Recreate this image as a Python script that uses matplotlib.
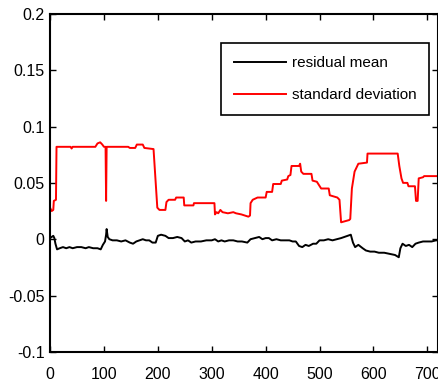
import numpy as np
import matplotlib
matplotlib.use("Agg")
import matplotlib.pyplot as plt

# standard deviation (red)
std_x = [0, 3, 6, 7, 11, 12, 38, 40, 42, 84, 88, 93, 97, 100, 103, 104, 105,
         145, 148, 158, 161, 172, 175, 192, 199, 203, 214, 216, 220, 232, 234,
         248, 249, 266, 267, 305, 306, 309, 312, 316, 320, 330, 340, 345, 355,
         368, 371, 372, 376, 385, 400, 402, 412, 414, 428, 430, 440, 442, 446,
         448, 462, 464, 466, 470, 485, 487, 495, 503, 517, 519, 533, 537, 540,
         555, 557, 560, 565, 572, 588, 589, 645, 648, 652, 655, 663, 665, 677,
         679, 682, 684, 692, 694, 720]
std_y = [0.028, 0.025, 0.026, 0.034, 0.035, 0.082, 0.082, 0.0805, 0.082, 0.082,
         0.085, 0.086, 0.084, 0.082, 0.082, 0.034, 0.082, 0.082, 0.081, 0.081,
         0.084, 0.084, 0.081, 0.080, 0.028, 0.026, 0.026, 0.033, 0.035, 0.035,
         0.037, 0.037, 0.030, 0.030, 0.032, 0.032, 0.022, 0.024, 0.023, 0.026,
         0.024, 0.023, 0.024, 0.023, 0.022, 0.020, 0.021, 0.032, 0.035, 0.037,
         0.037, 0.042, 0.042, 0.049, 0.049, 0.052, 0.053, 0.056, 0.057, 0.065,
         0.065, 0.067, 0.060, 0.058, 0.058, 0.052, 0.051, 0.045, 0.045, 0.039,
         0.037, 0.035, 0.015, 0.017, 0.018, 0.045, 0.060, 0.067, 0.068, 0.076,
         0.076, 0.065, 0.054, 0.050, 0.050, 0.047, 0.047, 0.034, 0.034, 0.054,
         0.055, 0.056, 0.056]

# residual mean (black)
mean_x = [0, 3, 6, 8, 10, 13, 18, 24, 30, 36, 42, 50, 58, 66, 72, 80, 88, 94,
          98, 102, 104, 105, 107, 110, 116, 124, 132, 140, 148, 154, 160, 166,
          172, 178, 184, 190, 196, 200, 206, 214, 220, 228, 236, 244, 250, 256,
          262, 270, 280, 290, 300, 306, 312, 318, 324, 332, 340, 348, 356, 366,
          372, 380, 388, 394, 400, 406, 412, 420, 428, 436, 444, 450, 456, 462,
          468, 474, 480, 488, 494, 500, 508, 516, 524, 532, 540, 546, 552, 558,
          562, 566, 572, 580, 586, 594, 602, 610, 620, 630, 640, 647, 650, 654,
          660, 666, 672, 678, 684, 692, 700, 708, 716, 720]
mean_y = [0.001, 0.002, 0.003, 0.001, -0.004, -0.009, -0.008, -0.007, -0.008,
          -0.007, -0.008, -0.007, -0.007, -0.008, -0.007, -0.008, -0.008,
          -0.009, -0.005, -0.002, 0.004, 0.009, 0.002, 0.000, -0.001, -0.001,
          -0.002, -0.001, -0.003, -0.004, -0.002, -0.001, 0.000, -0.001,
          -0.001, -0.003, -0.003, 0.003, 0.004, 0.003, 0.001, 0.001, 0.002,
          0.001, -0.002, -0.001, -0.003, -0.002, -0.002, -0.001, -0.001, 0.000,
          -0.002, -0.001, -0.002, -0.001, -0.001, -0.002, -0.002, -0.003,
          0.000, 0.001, 0.002, 0.000, 0.001, 0.001, -0.001, 0.000, -0.001,
          -0.001, -0.001, -0.002, -0.002, -0.006, -0.007, -0.005, -0.006,
          -0.004, -0.004, -0.001, -0.001, 0.000, -0.001, 0.000, 0.001, 0.002,
          0.003, 0.004, -0.003, -0.007, -0.005, -0.008, -0.010, -0.011, -0.011,
          -0.012, -0.012, -0.013, -0.014, -0.016, -0.008, -0.004, -0.006,
          -0.005, -0.007, -0.004, -0.003, -0.002, -0.002, -0.002, -0.001,
          -0.001]

plt.rcParams['font.family'] = ['Liberation Sans', 'DejaVu Sans']

fig = plt.figure(figsize=(4.39, 3.85), dpi=100)
ax = fig.add_axes([0.114, 0.086, 0.884, 0.878])

ax.plot(mean_x, mean_y, color='black', linewidth=1.4, label='residual mean')
ax.plot(std_x, std_y, color='red', linewidth=1.4, label='standard deviation')

ax.set_xlim(0, 720)
ax.set_ylim(-0.1, 0.2)
ax.set_xticks(np.arange(0, 701, 100))
ax.set_yticks([-0.1, -0.05, 0, 0.05, 0.1, 0.15, 0.2])
ax.set_yticklabels(['-0.1', '-0.05', '0', '0.05', '0.1', '0.15', '0.2'])

for s in ax.spines.values():
    s.set_linewidth(1.5)
ax.tick_params(direction='in', top=True, right=True, length=4, width=1,
               labelsize=11.5)
ax.tick_params(axis='x', pad=11)
ax.tick_params(axis='y', pad=4)

leg = ax.legend(loc='upper right', bbox_to_anchor=(0.977, 0.914),
                borderaxespad=0, fontsize=11, handlelength=3.4,
                handletextpad=0.35, labelspacing=1.2, borderpad=0.85,
                fancybox=False, framealpha=1, edgecolor='black')
leg.get_frame().set_linewidth(1.2)

fig.savefig('out.png', dpi=100)
